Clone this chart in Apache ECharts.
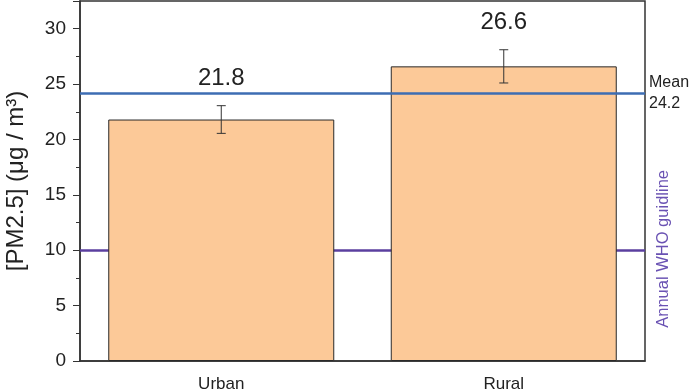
<!DOCTYPE html>
<html><head><meta charset="utf-8">
<script src="https://cdn.jsdelivr.net/npm/echarts@6/dist/echarts.min.js"></script>
<style>html,body{margin:0;padding:0;background:#fff}#c{width:691px;height:392px}</style>
</head><body><div id="c"></div>
<script>
const categories = ['Urban', 'Rural'];
const means = [21.8, 26.6];
const errors = [1.25, 1.5];
const overallMean = 24.2;
const whoGuideline = 10;
const yTicks = [0, 5, 10, 15, 20, 25, 30];

const chart = echarts.init(document.getElementById('c'));
const font = 'Liberation Sans, Arial, sans-serif';
chart.setOption({
  animation: false,
  grid: { left: 80, right: 46, top: 1, bottom: 31, outerBoundsMode: 'none', containLabel: false, show: true, borderColor: '#333', borderWidth: 1.5, backgroundColor: 'transparent' },
  xAxis: {
    type: 'category', data: categories,
    axisLine: { lineStyle: { color: '#333', width: 1.5 } },
    axisTick: { alignWithLabel: true, length: 5, lineStyle: { color: '#333' } },
    axisLabel: { color: '#222', fontSize: 17, fontFamily: font, margin: 15 }
  },
  yAxis: {
    type: 'value', min: 0, max: 32.5, interval: 5,
    name: '[PM2.5] (\u03bcg / m\u00b3)', nameLocation: 'middle', nameGap: 52, nameRotate: 90,
    nameTextStyle: { color: '#222', fontSize: 24, fontFamily: font },
    axisLine: { show: true, lineStyle: { color: '#333', width: 1.5 } },
    axisTick: { show: true, length: 7, lineStyle: { color: '#333' } },
    minorTick: { show: true, splitNumber: 2, length: 4, lineStyle: { color: '#333' } },
    splitLine: { show: false },
    axisLabel: { color: '#222', fontSize: 19, fontFamily: font, margin: 14,
      formatter: v => yTicks.includes(v) ? String(v) : '' }
  },
  series: [
    {
      type: 'line', data: [], z: 1, silent: true,
      markLine: {
        symbol: 'none', silent: true, z: 1,
        lineStyle: { color: '#5b3f9f', width: 2.5, type: 'solid' },
        label: { show: false },
        data: [{ yAxis: whoGuideline }]
      }
    },
    {
      type: 'bar', data: means, barWidth: '80%', z: 2,
      itemStyle: { color: '#fcc998', borderColor: '#2a2a2a', borderWidth: 1 }
    },
    {
      type: 'custom', z: 4,
      data: means.map((m, i) => [i, m, errors[i]]),
      renderItem: function (params, api) {
        const i = api.value(0), m = api.value(1), e = api.value(2);
        const top = api.coord([i, m + e]);
        const bot = api.coord([i, m - e]);
        const w = 9;
        const st = { stroke: '#333', lineWidth: 1 };
        return { type: 'group', children: [
          { type: 'line', shape: { x1: top[0], y1: top[1], x2: bot[0], y2: bot[1] }, style: st },
          { type: 'line', shape: { x1: top[0] - w / 2, y1: top[1], x2: top[0] + w / 2, y2: top[1] }, style: st },
          { type: 'line', shape: { x1: bot[0] - w / 2, y1: bot[1], x2: bot[0] + w / 2, y2: bot[1] }, style: st },
          { type: 'text', x: top[0], y: top[1] - 27, style: { text: m.toFixed(1), fill: '#222', font: '24px ' + font, align: 'center', verticalAlign: 'middle' } }
        ]};
      }
    },
    {
      type: 'line', data: [], z: 5, silent: true,
      markLine: {
        symbol: 'none', silent: true,
        lineStyle: { color: '#3d6db3', width: 2.5, type: 'solid' },
        label: { show: true, position: 'end', formatter: 'Mean\n' + overallMean, color: '#222', fontSize: 16, fontFamily: font, lineHeight: 21, distance: 4, align: 'left', padding: [20, 0, 0, 0] },
        data: [{ yAxis: overallMean }]
      }
    }
  ],
  graphic: [{
    type: 'text', left: 655, top: 170, rotation: Math.PI / 2,
    style: { text: 'Annual WHO guidline', fill: '#6a52b3', font: '16.5px ' + font }
  }]
});
</script></body></html>
